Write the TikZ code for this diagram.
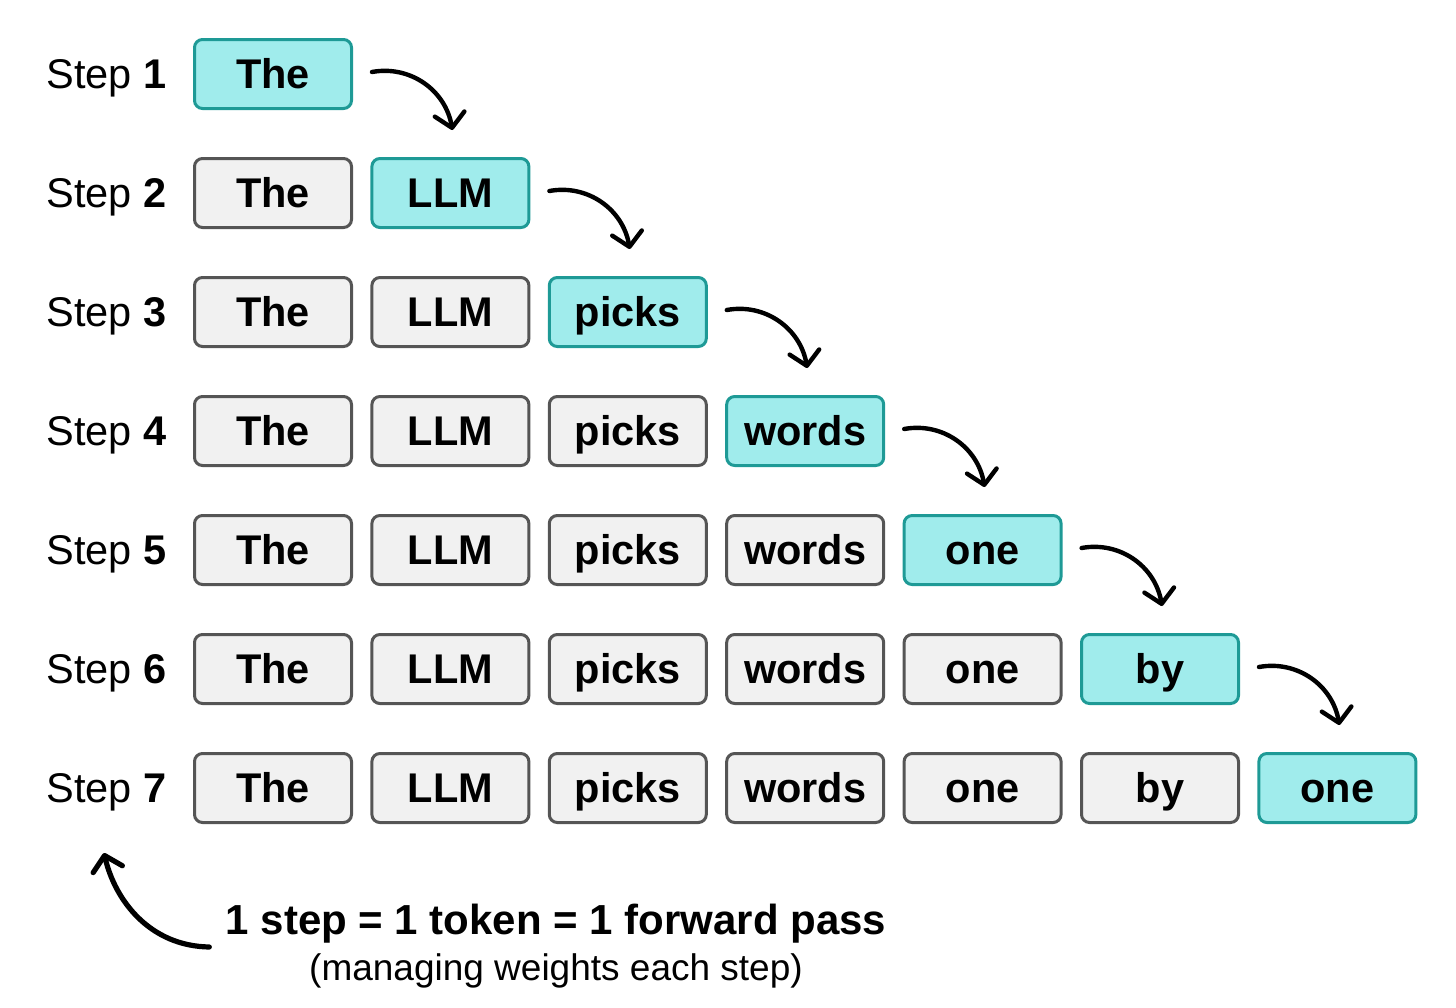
\documentclass[tikz,border=0pt]{standalone}
\usepackage{fontspec}
\setmainfont{Liberation Sans}
\usetikzlibrary{arrows.meta}
\definecolor{tealfill}{HTML}{A0ECEC}
\definecolor{tealdraw}{HTML}{1E9A96}
\definecolor{greyfill}{HTML}{F1F1F1}
\definecolor{greydraw}{HTML}{555555}
\begin{document}
\begin{tikzpicture}[x=0.5pt,y=-0.5pt,
  tok/.style={draw=greydraw, fill=greyfill, line width=1.5pt, rounded corners=4pt,
    minimum width=78.5pt, minimum height=34.5pt, inner sep=0pt,
    text height=14.9pt, text depth=0pt,
    font=\fontsize{20.75}{24}\selectfont\bfseries},
  cur/.style={tok, draw=tealdraw, fill=tealfill},
  lbl/.style={anchor=east, inner sep=0pt, text height=14.9pt, text depth=0pt,
    font=\fontsize{20.75}{24}\selectfont},
  curve/.style={line width=2.2pt, line cap=round,
    -{Straight Barb[length=7pt,width=15pt,line cap=round,line join=round]}}]
\useasboundingbox (0,0) rectangle (1456,1007);

\foreach \r in {1,...,7}{
  \node[lbl] (s\r) at (167,{74+(\r-1)*119}) {Step \textbf{\r}};
  \foreach \w [count=\c] in {The,LLM,picks,words,one,by,one}{
    \ifnum\c<\r
      \node[tok] (w\r-\c) at ({273+(\c-1)*177.4},{74+(\r-1)*119}) {\w};
    \fi
    \ifnum\c=\r
      \node[cur] (w\r-\c) at ({273+(\c-1)*177.4},{74+(\r-1)*119}) {\w};
    \fi
  }
}

\foreach \r [evaluate=\r as \s using int(\r+1)] in {1,...,6}{
  \draw[curve] ([shift={(19,-2)}]w\r-\r.east)
    .. controls +(38,-7) and +(-7,-40) ..
    ([shift={(2,-27)}]w\s-\s.north);
}

\node[inner sep=0pt, font=\fontsize{21}{24}\selectfont\bfseries] (eq) at (556,924)
  {1 step = 1 token = 1 forward pass};
\node[inner sep=0pt, font=\fontsize{18.5}{22}\selectfont] (sub) at (556,971)
  {(managing weights each step)};
\coordinate (tip) at (104,853);
\draw[curve, line width=2.6pt] ([shift={(-16,23)}]eq.west)
  .. controls +(-60,-1) and +(11,47) .. (tip);
\end{tikzpicture}
\end{document}
